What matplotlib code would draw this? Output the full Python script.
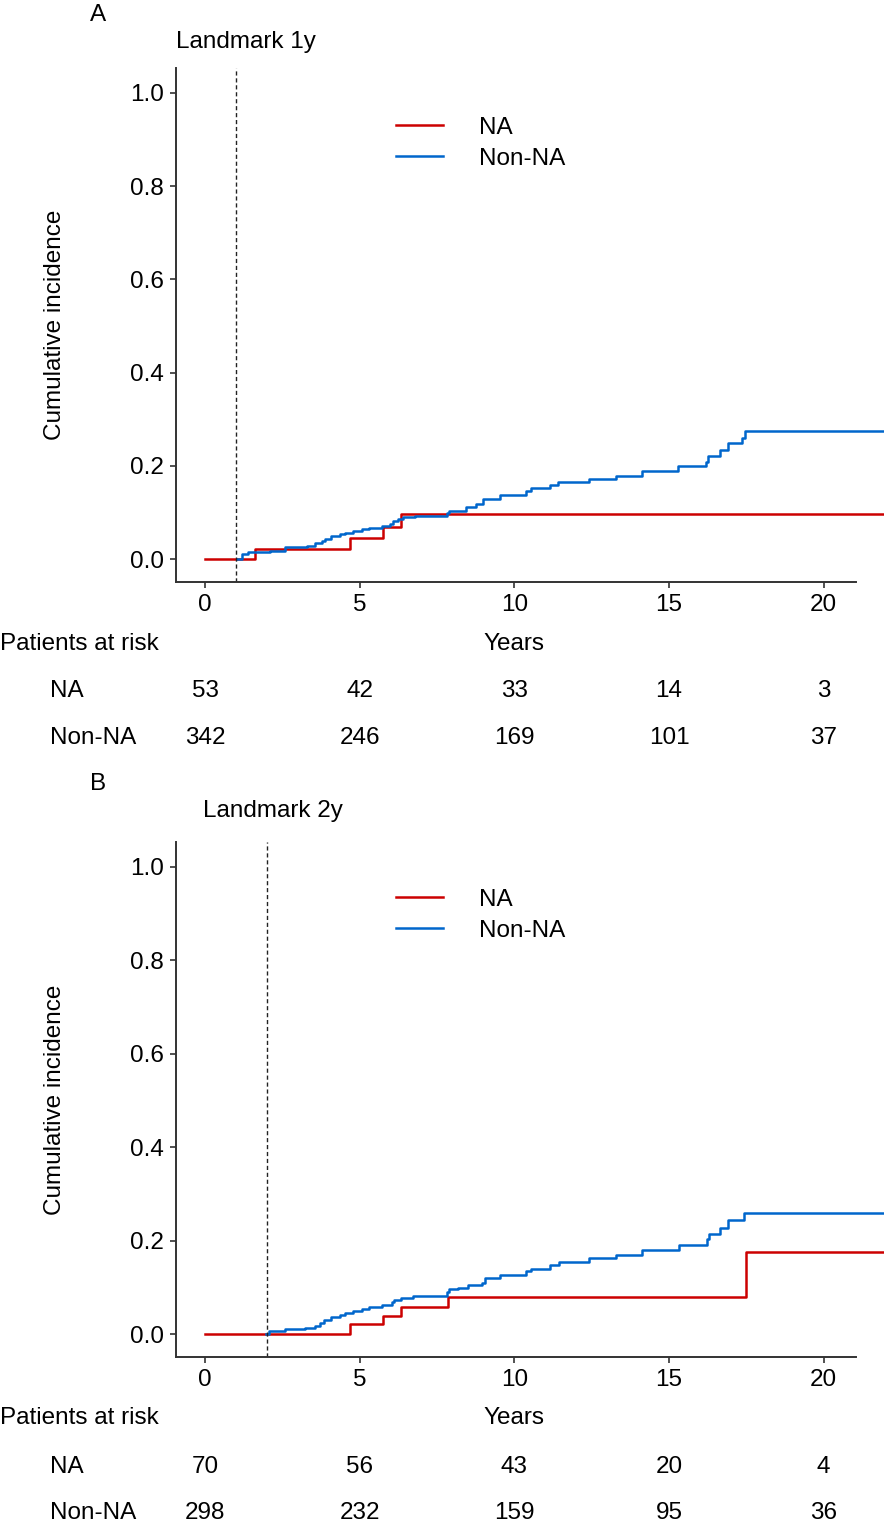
import matplotlib
matplotlib.use("Agg")
import matplotlib.pyplot as plt
import matplotlib.transforms as mtransforms

plt.rcParams['font.family'] = ['Liberation Sans', 'DejaVu Sans']

RED = '#cc0000'
BLUE = '#0066cc'

# ---- data ----
years = [0, 5, 10, 15, 20]

# panel A, landmark 1y
a_na_t = [0, 1.6, 4.69, 5.75, 6.32, 21.95]
a_na_y = [0, 0.021, 0.046, 0.069, 0.096, 0.096]
a_non_t = [1.02, 1.18, 1.39, 2.10, 2.58, 3.28, 3.55, 3.77, 3.88, 4.07, 4.36, 4.52,
           4.77, 5.06, 5.31, 5.71, 5.98, 6.08, 6.24, 6.40, 6.79, 7.81, 7.90, 8.45,
           8.77, 8.99, 9.53, 10.37, 10.55, 11.15, 11.42, 12.42, 13.28, 14.14, 15.29,
           16.19, 16.26, 16.64, 16.91, 17.37, 17.47, 21.95]
a_non_y = [0.0, 0.011, 0.015, 0.018, 0.025, 0.029, 0.034, 0.039, 0.044, 0.050, 0.053, 0.057,
           0.061, 0.064, 0.067, 0.072, 0.076, 0.082, 0.087, 0.091, 0.093, 0.098, 0.103, 0.111,
           0.118, 0.129, 0.138, 0.146, 0.152, 0.158, 0.165, 0.172, 0.179, 0.190, 0.199,
           0.209, 0.222, 0.235, 0.250, 0.260, 0.275, 0.275]
a_risk_na = [53, 42, 33, 14, 3]
a_risk_non = [342, 246, 169, 101, 37]

# panel B, landmark 2y
b_na_t = [0, 4.69, 5.76, 6.32, 7.84, 17.48, 21.95]
b_na_y = [0, 0.021, 0.038, 0.058, 0.080, 0.175, 0.175]
b_non_t = [1.98, 2.08, 2.58, 3.23, 3.55, 3.72, 3.85, 4.06, 4.36, 4.52, 4.77, 5.06, 5.31,
           5.71, 6.03, 6.12, 6.35, 6.71, 7.81, 7.90, 8.19, 8.51, 8.94, 9.05, 9.53,
           10.37, 10.55, 11.15, 11.44, 12.42, 13.30, 14.14, 15.31, 16.23, 16.29, 16.66,
           16.92, 17.42, 21.95]
b_non_y = [0.0, 0.007, 0.010, 0.013, 0.018, 0.024, 0.030, 0.037, 0.041, 0.046, 0.050, 0.053, 0.058,
           0.062, 0.069, 0.074, 0.078, 0.081, 0.090, 0.096, 0.099, 0.105, 0.110, 0.121, 0.127,
           0.135, 0.140, 0.147, 0.154, 0.162, 0.170, 0.181, 0.190, 0.204, 0.215, 0.228,
           0.244, 0.259, 0.259]
b_risk_na = [70, 56, 43, 20, 4]
b_risk_non = [298, 232, 159, 95, 36]

W, H = 886, 1522
fig = plt.figure(figsize=(W / 100, H / 100), dpi=100)
FS = 17.5


def fy(py):
    return 1 - py / H


def panel(top_px, bot_px, na_t, na_y, non_t, non_y, landmark, letter, letter_y,
          lm_x, lm_y, leg_y, rows_y, risk_na, risk_non):
    ax = fig.add_axes([176 / W, fy(bot_px), 708 / W, (bot_px - top_px) / H])
    ax.set_xlim(-0.94, 21.95)
    ax.set_ylim(-0.049, 1.053)
    ax.step(na_t, na_y, where='post', color=RED, lw=1.8, label='NA')
    ax.step(non_t, non_y, where='post', color=BLUE, lw=1.8, label='Non-NA')
    ax.axvline(landmark, color='#222222', lw=1.0, ls=(0, (3, 2)))
    for s in ['top', 'right']:
        ax.spines[s].set_visible(False)
    for s in ['left', 'bottom']:
        ax.spines[s].set_color('#333333')
        ax.spines[s].set_linewidth(1.4)
    ax.spines['bottom'].set_bounds(-0.94, 21.05)
    ax.set_xticks(years)
    ax.set_yticks([0, 0.2, 0.4, 0.6, 0.8, 1.0])
    ax.set_yticklabels(['0.0', '0.2', '0.4', '0.6', '0.8', '1.0'])
    ax.tick_params(direction='out', length=4.5, width=1.2, color='#333333',
                   labelsize=FS, pad=4)
    ax.set_ylabel('Cumulative incidence', fontsize=FS)
    ax.yaxis.set_label_coords(-0.155, 0.5)
    ax.legend(loc='upper left', bbox_to_anchor=(374 / W, fy(leg_y)),
              bbox_transform=fig.transFigure, frameon=False, fontsize=FS,
              handlelength=1.93, handletextpad=1.5, labelspacing=0.36)

    fig.text(90 / W, fy(letter_y), letter, fontsize=FS, va='baseline')
    fig.text(lm_x / W, fy(lm_y), 'Landmark %dy' % landmark, fontsize=FS, va='baseline')

    tr = mtransforms.blended_transform_factory(ax.transData, fig.transFigure)
    fig.text(0, fy(rows_y[0]), 'Patients at risk', fontsize=FS, va='center')
    ax.text(10, fy(rows_y[0]), 'Years', transform=tr, fontsize=FS, ha='center', va='center')
    fig.text(50 / W, fy(rows_y[1]), 'NA', fontsize=FS, va='center')
    fig.text(50 / W, fy(rows_y[2]), 'Non-NA', fontsize=FS, va='center')
    for x, n1, n2 in zip(years, risk_na, risk_non):
        ax.text(x, fy(rows_y[1]), str(n1), transform=tr, fontsize=FS, ha='center', va='center')
        ax.text(x, fy(rows_y[2]), str(n2), transform=tr, fontsize=FS, ha='center', va='center')
    return ax


panel(68, 582, a_na_t, a_na_y, a_non_t, a_non_y, 1, 'A', 21, 176, 48,
      95, [644, 691, 738], a_risk_na, a_risk_non)
panel(842, 1357, b_na_t, b_na_y, b_non_t, b_non_y, 2, 'B', 790, 203, 817,
      867, [1418, 1467, 1513], b_risk_na, b_risk_non)

fig.savefig('out.png', dpi=100)
